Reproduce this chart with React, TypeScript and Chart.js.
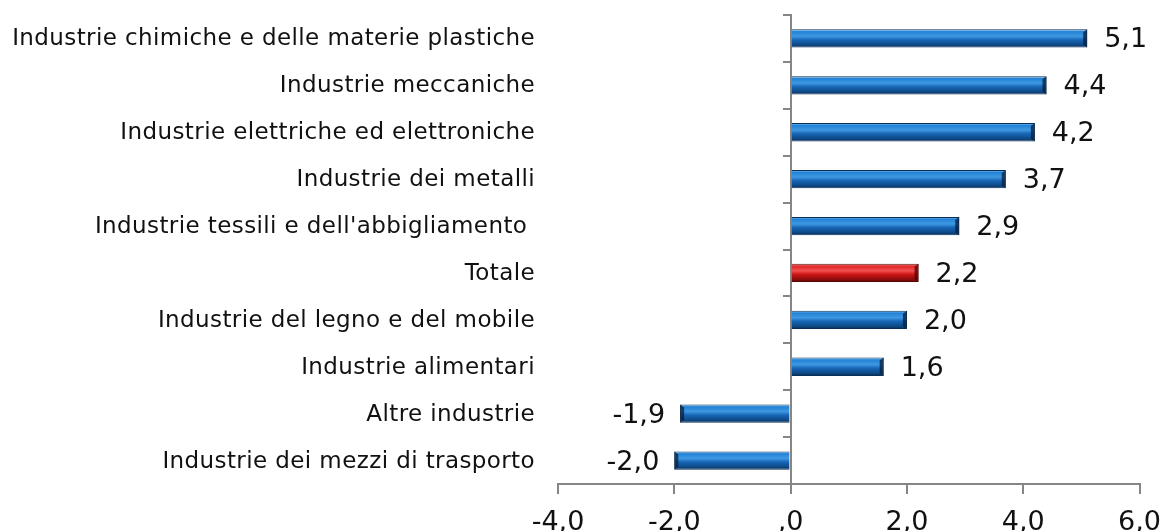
import React, { useEffect, useRef } from 'react';
import { Chart, registerables } from 'chart.js';

Chart.register(...registerables);

const categories = [
  'Industrie chimiche e delle materie plastiche',
  'Industrie meccaniche',
  'Industrie elettriche ed elettroniche',
  'Industrie dei metalli',
  "Industrie tessili e dell'abbigliamento ",
  'Totale',
  'Industrie del legno e del mobile',
  'Industrie alimentari',
  'Altre industrie',
  'Industrie dei mezzi di trasporto',
];
const values = [5.1, 4.4, 4.2, 3.7, 2.9, 2.2, 2.0, 1.6, -1.9, -2.0];
const highlightCategory = 'Totale';
const xTickLabels = ['-4,0', '-2,0', ',0', '2,0', '4,0', '6,0'];

const fmt = (v: number) => v.toFixed(1).replace('.', ',');

function barFill(c: any) {
  const chart = c.chart;
  const y = chart.scales && chart.scales.y;
  const red = categories[c.dataIndex] === highlightCategory;
  const flat = red ? '#d01010' : '#1f77d0';
  if (!y || c.dataIndex === undefined) return flat;
  const cy = y.getPixelForValue(c.dataIndex);
  if (!Number.isFinite(cy)) return flat;
  const half = 9;
  const g = chart.ctx.createLinearGradient(0, cy - half, 0, cy + half);
  if (red) {
    g.addColorStop(0, '#f7a0a0');
    g.addColorStop(0.12, '#e02828');
    g.addColorStop(0.38, '#f25050');
    g.addColorStop(0.58, '#cc1515');
    g.addColorStop(0.82, '#960d0d');
    g.addColorStop(1, '#600505');
  } else {
    g.addColorStop(0, '#8ccaf5');
    g.addColorStop(0.12, '#2282d6');
    g.addColorStop(0.38, '#3f98e2');
    g.addColorStop(0.58, '#1766b6');
    g.addColorStop(0.82, '#0f4d8d');
    g.addColorStop(1, '#0a325c');
  }
  return g;
}

const labelsPlugin = {
  id: 'customLabels',
  afterDatasetsDraw(chart: any) {
    const ctx = chart.ctx;
    const meta = chart.getDatasetMeta(0);
    ctx.save();
    meta.data.forEach((el: any, i: number) => {
      const red = categories[i] === highlightCategory;
      const h = el.height;
      const top = el.y - h / 2;
      const dir = values[i] >= 0 ? 1 : -1;
      const endX = el.x;
      const w = 4;
      ctx.fillStyle = red ? 'rgba(80,0,0,0.75)' : 'rgba(5,30,60,0.75)';
      ctx.beginPath();
      ctx.moveTo(endX, top);
      ctx.lineTo(endX - dir * w, top + 3);
      ctx.lineTo(endX - dir * w, top + h - 3);
      ctx.lineTo(endX, top + h);
      ctx.closePath();
      ctx.fill();
    });
    ctx.restore();
  },
  afterDraw(chart: any) {
    const ctx = chart.ctx;
    const y = chart.scales.y;
    const meta = chart.getDatasetMeta(0);
    ctx.save();
    ctx.letterSpacing = '0.4px';
    ctx.font = '23px "DejaVu Sans"';
    ctx.fillStyle = '#111';
    ctx.textAlign = 'right';
    ctx.textBaseline = 'middle';
    categories.forEach((c, i) => {
      ctx.fillText(c, 535, y.getPixelForValue(i) + 1);
    });
    ctx.letterSpacing = '0px';
    ctx.font = '27px "DejaVu Sans"';
    meta.data.forEach((el: any, i: number) => {
      const v = values[i];
      if (v >= 0) {
        ctx.textAlign = 'left';
        ctx.fillText(fmt(v), el.x + 17, el.y + 2);
      } else {
        ctx.textAlign = 'right';
        ctx.fillText(fmt(v), el.x - 15, el.y + 2);
      }
    });
    ctx.restore();
  },
};

export default function App() {
  const ref = useRef<HTMLCanvasElement | null>(null);
  useEffect(() => {
    document.body.style.margin = '0';
    const chart = new Chart(ref.current as HTMLCanvasElement, {
      type: 'bar',
      data: {
        labels: categories,
        datasets: [
          {
            data: values,
            backgroundColor: barFill,
            borderColor: (c: any) =>
              categories[c.dataIndex] === highlightCategory ? '#5a0505' : '#0a2f58',
            borderWidth: 1,
            barPercentage: 0.39,
            categoryPercentage: 1,
          },
        ],
      },
      options: {
        indexAxis: 'y',
        animation: false,
        responsive: false,
        layout: { padding: { left: 558, right: 25, top: 15, bottom: 0 } },
        plugins: { legend: { display: false }, tooltip: { enabled: false } },
        scales: {
          x: {
            type: 'linear',
            min: -4,
            max: 6,
            position: 'bottom',
            afterFit: (s: any) => {
              s.height = 47;
            },
            ticks: {
              stepSize: 2,
              color: '#111',
              font: { family: 'DejaVu Sans', size: 27, lineHeight: 1.85 },
              padding: 4,
              callback: (_v: any, i: number) => xTickLabels[i],
            },
            grid: { drawOnChartArea: false, tickLength: 10, color: '#868686', lineWidth: 2 },
            border: { color: '#868686', width: 2 },
          },
          y: {
            type: 'category',
            position: { x: 0 } as any,
            ticks: { display: false },
            grid: { drawOnChartArea: false, tickLength: 7, color: '#868686', lineWidth: 2, offset: true },
            border: { color: '#868686', width: 2 },
          },
        },
      },
      plugins: [labelsPlugin],
    });
    chart.update();
    return () => chart.destroy();
  }, []);
  return (
    <div style={{ width: 1165, height: 531 }}>
      <canvas ref={ref} width={1165} height={531} />
    </div>
  );
}
